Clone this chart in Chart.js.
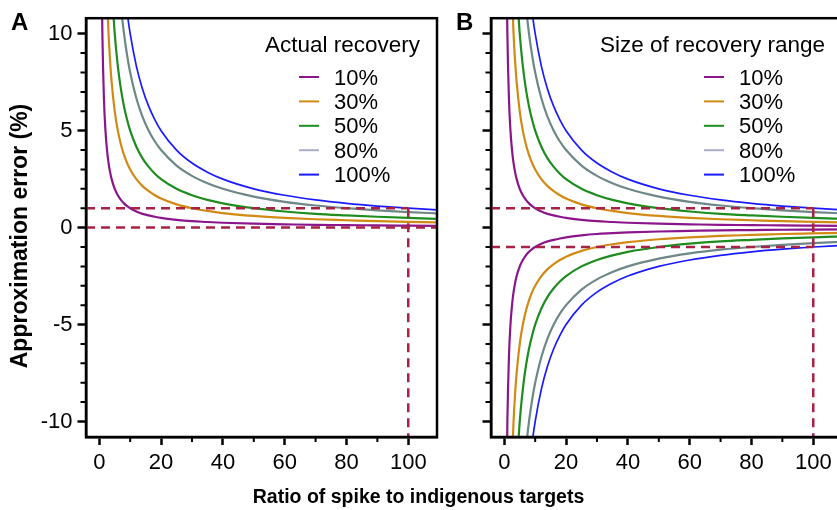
<!DOCTYPE html>
<html>
<head>
<meta charset="utf-8">
<script src="https://cdn.jsdelivr.net/npm/chart.js@4.4.1/dist/chart.umd.min.js"></script>
<style>
  body { margin: 0; background: #fff; overflow: hidden; width: 837px; height: 510px; position: relative; }
  canvas { position: absolute; top: 0; }
  #chartA { left: 0; }
  #chartB { left: 440px; }
  #xTitle {
    position: absolute; left: 0; width: 837px; top: 484px;
    text-align: center; font: bold 19.5px "Liberation Sans", Arial, sans-serif; line-height: 24px; color: #000;
  }
</style>
</head>
<body>
<canvas id="chartA" width="450" height="510"></canvas>
<canvas id="chartB" width="410" height="510"></canvas>
<div id="xTitle">Ratio of spike to indigenous targets</div>
<script>
// ratio of spike to indigenous targets (x)
const ratio = [0.8, 1, 1.5, 2, 2.5, 3, 3.5, 4, 5, 6, 7, 8, 9, 10, 12, 14, 16, 18, 20, 25, 30, 35, 40, 50, 60, 70, 80, 90, 100, 110];

// approximation error (%), upper curves (panel A and top half of panel B)
const err10 = [12.5, 10, 6.67, 5, 4, 3.33, 2.86, 2.5, 2, 1.67, 1.43, 1.25, 1.11, 1.0, 0.83, 0.71, 0.63, 0.56, 0.5, 0.4, 0.33, 0.29, 0.25, 0.2, 0.17, 0.14, 0.13, 0.11, 0.1, 0.09];
const err30 = [null, null, null, null, 12, 10, 8.57, 7.5, 6, 5, 4.29, 3.75, 3.33, 3, 2.5, 2.14, 1.88, 1.67, 1.5, 1.2, 1.0, 0.86, 0.75, 0.6, 0.5, 0.43, 0.38, 0.33, 0.3, 0.27];
const err50 = [null, null, null, null, null, null, null, 12.5, 10, 8.33, 7.14, 6.25, 5.56, 5, 4.17, 3.57, 3.13, 2.78, 2.5, 2.0, 1.67, 1.43, 1.25, 1.0, 0.83, 0.71, 0.63, 0.56, 0.5, 0.45];
const err80 = [null, null, null, null, null, null, null, null, null, 13.33, 11.43, 10, 8.89, 8, 6.67, 5.71, 5, 4.44, 4, 3.2, 2.67, 2.29, 2, 1.6, 1.33, 1.14, 1.0, 0.89, 0.8, 0.73];
const err100 = [null, null, null, null, null, null, null, null, null, null, null, 12.5, 11.11, 10, 8.33, 7.14, 6.25, 5.56, 5, 4, 3.33, 2.86, 2.5, 2, 1.67, 1.43, 1.25, 1.11, 1.0, 0.91];

// lower curves of panel B
const low10 = [-12.5, -10, -6.67, -5, -4, -3.33, -2.86, -2.5, -2, -1.67, -1.43, -1.25, -1.11, -1.0, -0.83, -0.71, -0.63, -0.56, -0.5, -0.4, -0.33, -0.29, -0.25, -0.2, -0.17, -0.14, -0.13, -0.11, -0.1, -0.09];
const low30 = [null, null, null, null, -12, -10, -8.57, -7.5, -6, -5, -4.29, -3.75, -3.33, -3, -2.5, -2.14, -1.88, -1.67, -1.5, -1.2, -1.0, -0.86, -0.75, -0.6, -0.5, -0.43, -0.38, -0.33, -0.3, -0.27];
const low50 = [null, null, null, null, null, null, null, -12.5, -10, -8.33, -7.14, -6.25, -5.56, -5, -4.17, -3.57, -3.13, -2.78, -2.5, -2.0, -1.67, -1.43, -1.25, -1.0, -0.83, -0.71, -0.63, -0.56, -0.5, -0.45];
const low80 = [null, null, null, null, null, null, null, null, null, -13.33, -11.43, -10, -8.89, -8, -6.67, -5.71, -5, -4.44, -4, -3.2, -2.67, -2.29, -2, -1.6, -1.33, -1.14, -1.0, -0.89, -0.8, -0.73];
const low100 = [null, null, null, null, null, null, null, null, null, null, null, -12.5, -11.11, -10, -8.33, -7.14, -6.25, -5.56, -5, -4, -3.33, -2.86, -2.5, -2, -1.67, -1.43, -1.25, -1.11, -1.0, -0.91];

const seriesLabels = ["10%", "30%", "50%", "80%", "100%"];
const yTicks = [-10, -5, 0, 5, 10];
const xTicks = [0, 20, 40, 60, 80, 100];

// reference lines
const spikeRatio = 100;
const errLimit = 1;

const colors = ["#8b168b", "#d28a14", "#1f8c1f", "#6e8888", "#1a1aff"];
const legendColors = ["#8b168b", "#d28a14", "#1f8c1f", "#a9adc8", "#1a1aff"];
const dashColor = "#a82245";
const FONT = '"Liberation Sans", Arial, sans-serif';

const X_MIN = -4.3, X_MAX = 109.3, Y_MIN = -10.8, Y_MAX = 10.8;

function pts(ys) {
    const out = [];
    ys.forEach((v, i) => { if (v !== null) out.push({ x: ratio[i], y: v }); });
    return out;
}

function curve(ys, i) {
    return {
        label: seriesLabels[i],
        data: pts(ys),
        borderColor: colors[i],
        borderWidth: i === 4 ? 1.7 : 2.2,
        pointRadius: 0,
        cubicInterpolationMode: "monotone",
        order: 10,
    };
}

function dashed(data) {
    return {
        label: "",
        data: data,
        borderColor: dashColor,
        borderWidth: 2.5,
        borderDash: [9, 6],
        pointRadius: 0,
        tension: 0,
        order: 1,
    };
}

// minor ticks, box, panel letter, y title and legend
const framePlugin = {
    id: "frame",
    afterDraw(chart, args, opts) {
        const { ctx, chartArea: a, scales } = chart;
        const x = scales.x, y = scales.y;
        ctx.save();
        ctx.strokeStyle = "#000";
        ctx.lineWidth = 2;
        ctx.beginPath();
        for (let v = 10; v <= 100; v += 20) {
            const px = x.getPixelForValue(v);
            ctx.moveTo(px, a.bottom);
            ctx.lineTo(px, a.bottom + 5);
        }
        for (let v = -9; v <= 9; v++) {
            if (v % 5 === 0) continue;
            const py = y.getPixelForValue(v);
            ctx.moveTo(a.left, py);
            ctx.lineTo(a.left - 5.5, py);
        }
        ctx.stroke();
        ctx.lineWidth = 2.5;
        ctx.strokeRect(a.left, a.top, a.right - a.left, a.bottom - a.top);

        ctx.fillStyle = "#000";
        ctx.font = "bold 24px " + FONT;
        ctx.textAlign = "left";
        ctx.textBaseline = "alphabetic";
        ctx.fillText(opts.letter, opts.letterX, 30);

        if (opts.yTitle) {
            ctx.save();
            ctx.translate(21, 236);
            ctx.rotate(-Math.PI / 2);
            ctx.font = "bold 23px " + FONT;
            ctx.textAlign = "center";
            ctx.textBaseline = "middle";
            ctx.fillText(opts.yTitle, 0, 0);
            ctx.restore();
        }

        // legend
        ctx.font = "22.5px " + FONT;
        ctx.textAlign = "right";
        ctx.fillText(opts.title, a.right - 17, 52);
        ctx.textAlign = "left";
        ctx.font = "22px " + FONT;
        const lx = a.right - 138;
        seriesLabels.forEach((lab, i) => {
            const ly = 77 + i * 24.4;
            ctx.strokeStyle = legendColors[i];
            ctx.lineWidth = 2;
            ctx.beginPath();
            ctx.moveTo(lx, ly);
            ctx.lineTo(lx + 20, ly);
            ctx.stroke();
            ctx.fillText(lab, lx + 35, ly + 7.5);
        });
        ctx.restore();
    },
};

function makeOptions(showYLabels, yWidth, rightPad, letter, letterX, title) {
    return {
        responsive: false,
        animation: false,
        layout: { padding: { left: 0, top: 18, right: rightPad, bottom: 0 } },
        plugins: {
            legend: { display: false },
            tooltip: { enabled: false },
            frame: {
                letter: letter,
                letterX: letterX,
                title: title,
                yTitle: showYLabels ? "Approximation error (%)" : "",
            },
        },
        scales: {
            x: {
                type: "linear",
                min: X_MIN,
                max: X_MAX,
                afterFit(scale) { scale.height = 73; },
                afterBuildTicks(scale) { scale.ticks = xTicks.map((v) => ({ value: v })); },
                grid: { drawOnChartArea: false, drawTicks: true, tickLength: 8, tickWidth: 2.5, tickColor: "#000" },
                border: { display: true, color: "#000", width: 2.5 },
                ticks: { color: "#000", font: { family: FONT, size: 22 }, padding: 5, maxRotation: 0 },
            },
            y: {
                type: "linear",
                min: Y_MIN,
                max: Y_MAX,
                afterFit(scale) { scale.width = yWidth; },
                afterBuildTicks(scale) { scale.ticks = yTicks.map((v) => ({ value: v })); },
                grid: { drawOnChartArea: false, drawTicks: true, tickLength: 8.5, tickWidth: 2.5, tickColor: "#000" },
                border: { display: true, color: "#000", width: 2.5 },
                ticks: {
                    color: "#000",
                    font: { family: FONT, size: 22 },
                    padding: 5,
                    callback: (v) => (showYLabels ? String(v) : ""),
                },
            },
        },
    };
}

const upper = [err10, err30, err50, err80, err100];
const lower = [low10, low30, low50, low80, low100];

new Chart(document.getElementById("chartA"), {
    type: "line",
    data: {
        datasets: [
            dashed([{ x: X_MIN, y: errLimit }, { x: spikeRatio, y: errLimit }]),
            dashed([{ x: X_MIN, y: 0 }, { x: X_MAX, y: 0 }]),
            dashed([{ x: spikeRatio, y: errLimit }, { x: spikeRatio, y: Y_MIN }]),
            ...upper.map(curve),
        ],
    },
    options: makeOptions(true, 86, 13, "A", 11, "Actual recovery"),
    plugins: [framePlugin],
});

new Chart(document.getElementById("chartB"), {
    type: "line",
    data: {
        datasets: [
            dashed([{ x: X_MIN, y: errLimit }, { x: spikeRatio, y: errLimit }]),
            dashed([{ x: X_MIN, y: -errLimit }, { x: spikeRatio, y: -errLimit }]),
            dashed([{ x: spikeRatio, y: errLimit }, { x: spikeRatio, y: Y_MIN }]),
            ...upper.map(curve),
            ...lower.map(curve),
        ],
    },
    options: makeOptions(false, 51, 8, "B", 16, "Size of recovery range"),
    plugins: [framePlugin],
});
</script>
</body>
</html>
